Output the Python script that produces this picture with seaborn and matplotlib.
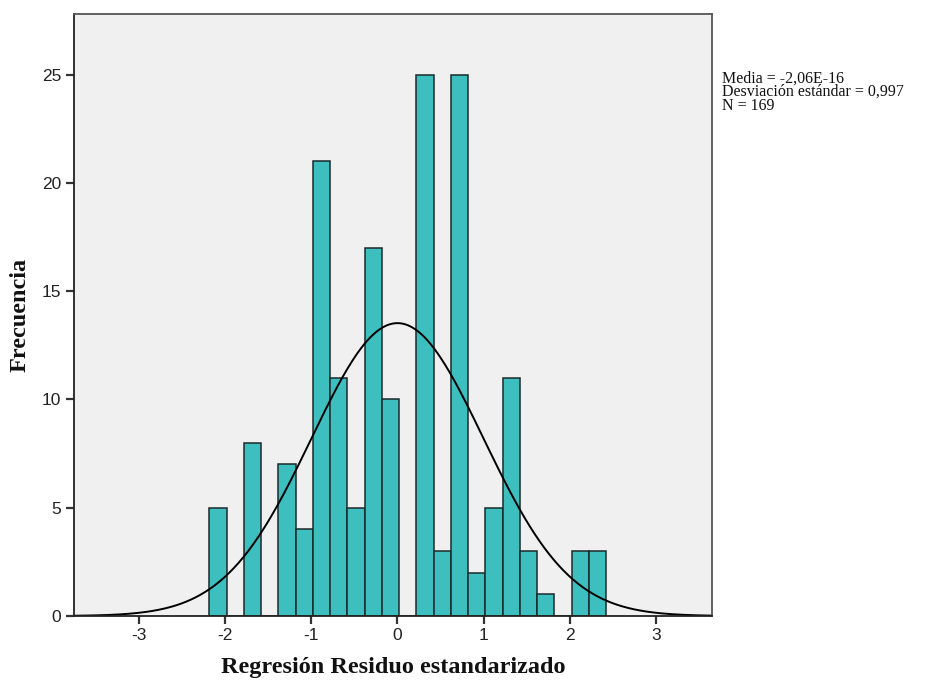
import numpy as np
import pandas as pd
import seaborn as sns
from matplotlib import pyplot as plt

# histogram bins (width 0.2)
bin_start = -2.18
bin_width = 0.2
counts = [5, 0, 8, 0, 7, 4, 21, 11, 5, 17, 10, 0, 25, 3, 25, 2, 5, 11, 3, 1, 0, 3, 3]
media = -2.06e-16
desv = 0.997
n_total = 169
x_ticks = [-3, -2, -1, 0, 1, 2, 3]
y_ticks = [0, 5, 10, 15, 20, 25]

edges = bin_start + bin_width * np.arange(len(counts) + 1)
centers = (edges[:-1] + edges[1:]) / 2
hist = pd.DataFrame({'centro': centers, 'frecuencia': counts})

# normal curve scaled to counts
xs = np.linspace(-3.75, 3.65, 400)
ys = n_total * bin_width * np.exp(-0.5 * ((xs - media) / desv) ** 2) / (desv * np.sqrt(2 * np.pi))
curva = pd.DataFrame({'x': xs, 'y': ys})

sns.set_style('white')
plt.rcParams['axes.unicode_minus'] = False
fig = plt.figure(figsize=(9.39, 6.82), dpi=100)
ax = fig.add_axes([0.0788, 0.0968, 0.6798, 0.8827])
ax.set_facecolor('#f0f0f0')

sns.histplot(data=hist, x='centro', weights='frecuencia', bins=list(edges), ax=ax,
             color='#3dbfc0', alpha=1, edgecolor='#1a2a2a', linewidth=1.1)
sns.lineplot(data=curva, x='x', y='y', ax=ax, color='black', linewidth=1.4)

ax.set_xlim(-3.75, 3.65)
ax.set_ylim(0, 27.8)
ax.set_xticks(x_ticks)
ax.set_yticks(y_ticks)
ax.tick_params(axis='both', bottom=True, left=True, direction='out', length=6,
               width=1.6, color='#333333', labelsize=12.5, pad=3, labelcolor='#222222')
for lab in ax.get_xticklabels() + ax.get_yticklabels():
    lab.set_family('Liberation Sans')
for s in ax.spines.values():
    s.set_color('#555555')
    s.set_linewidth(1.3)
ax.spines['bottom'].set_color('#222222')
ax.spines['left'].set_color('#222222')

ax.set_xlabel('Regresión Residuo estandarizado', family='Liberation Serif',
              fontweight='bold', fontsize=17.5, labelpad=10, color='#111111')
ax.set_ylabel('Frecuencia', family='Liberation Serif', fontweight='bold',
              fontsize=17.5, labelpad=8, color='#111111')

fig.text(0.7686, 0.897, 'Media = -2,06E-16\nDesviación estándar = 0,997\nN = 169',
         family='Liberation Serif', fontsize=11.5, va='top', ha='left',
         linespacing=0.82, color='#111111')

fig.savefig('out.png', dpi=100)
